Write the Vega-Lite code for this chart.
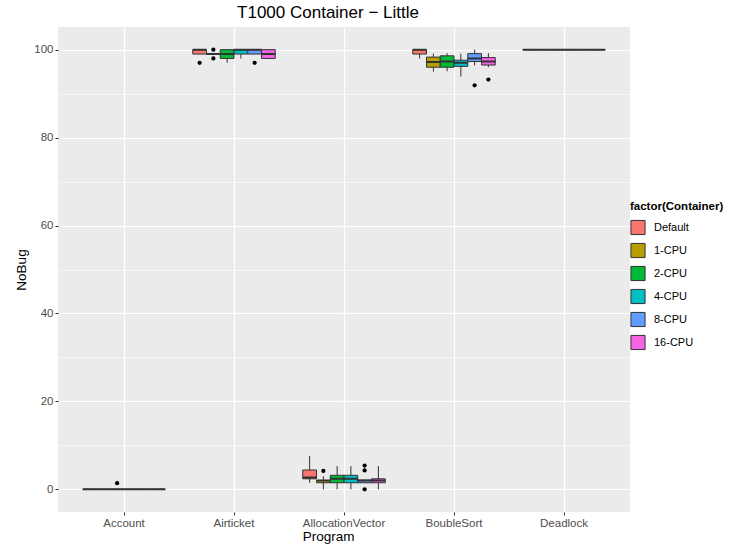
{
  "$schema": "https://vega.github.io/schema/vega-lite/v6.json",
  "autosize": "none",
  "width": 572,
  "height": 485,
  "padding": {"left": 58, "top": 27, "right": 111, "bottom": 39},
  "background": "white",
  "title": {"text": "T1000 Container − Little", "anchor": "middle", "dx": -16, "offset": 5, "fontSize": 17, "font": "Liberation Sans", "fontWeight": "normal", "color": "#000000"},
  "config": {
    "view": {"fill": "#EBEBEB", "stroke": null},
    "font": "Liberation Sans",
    "axis": {"domain": false, "gridColor": "#FFFFFF", "tickColor": "#333333", "tickSize": 3, "labelColor": "#4D4D4D", "labelFont": "Liberation Sans", "labelFontSize": 11.5, "labelPadding": 2, "titleFont": "Liberation Sans", "titleFontSize": 13.5, "titleFontWeight": "normal", "titleColor": "#000000"},
    "legend": {"titleFont": "Liberation Sans", "labelFont": "Liberation Sans"}
  },
  "datasets": {
    "boxes": [
      {"Program": "Account", "Container": "Default", "lower": 0, "q1": 0, "median": 0, "q3": 0, "upper": 0},
      {"Program": "Account", "Container": "1-CPU", "lower": 0, "q1": 0, "median": 0, "q3": 0, "upper": 0},
      {"Program": "Account", "Container": "2-CPU", "lower": 0, "q1": 0, "median": 0, "q3": 0, "upper": 0},
      {"Program": "Account", "Container": "4-CPU", "lower": 0, "q1": 0, "median": 0, "q3": 0, "upper": 0},
      {"Program": "Account", "Container": "8-CPU", "lower": 0, "q1": 0, "median": 0, "q3": 0, "upper": 0},
      {"Program": "Account", "Container": "16-CPU", "lower": 0, "q1": 0, "median": 0, "q3": 0, "upper": 0},
      {"Program": "Airticket", "Container": "Default", "lower": 99, "q1": 99, "median": 100, "q3": 100, "upper": 100},
      {"Program": "Airticket", "Container": "1-CPU", "lower": 99, "q1": 99, "median": 99, "q3": 99, "upper": 99},
      {"Program": "Airticket", "Container": "2-CPU", "lower": 97, "q1": 98, "median": 99, "q3": 100, "upper": 100},
      {"Program": "Airticket", "Container": "4-CPU", "lower": 98, "q1": 99, "median": 100, "q3": 100, "upper": 100},
      {"Program": "Airticket", "Container": "8-CPU", "lower": 99, "q1": 99, "median": 100, "q3": 100, "upper": 100},
      {"Program": "Airticket", "Container": "16-CPU", "lower": 98, "q1": 98, "median": 99, "q3": 100, "upper": 100},
      {"Program": "AllocationVector", "Container": "Default", "lower": 1.5, "q1": 2.4, "median": 2.7, "q3": 4.4, "upper": 7.6},
      {"Program": "AllocationVector", "Container": "1-CPU", "lower": 0, "q1": 1.5, "median": 2, "q3": 2, "upper": 3},
      {"Program": "AllocationVector", "Container": "2-CPU", "lower": 0, "q1": 1.5, "median": 2.4, "q3": 3.2, "upper": 5.3},
      {"Program": "AllocationVector", "Container": "4-CPU", "lower": 0, "q1": 1.5, "median": 2.4, "q3": 3.2, "upper": 5.3},
      {"Program": "AllocationVector", "Container": "8-CPU", "lower": 1.5, "q1": 1.5, "median": 2, "q3": 2.1, "upper": 2.1},
      {"Program": "AllocationVector", "Container": "16-CPU", "lower": 0, "q1": 1.5, "median": 2, "q3": 2.4, "upper": 5.3},
      {"Program": "BoubleSort", "Container": "Default", "lower": 98, "q1": 99, "median": 100, "q3": 100, "upper": 100},
      {"Program": "BoubleSort", "Container": "1-CPU", "lower": 95, "q1": 96, "median": 97.2, "q3": 98.3, "upper": 99.1},
      {"Program": "BoubleSort", "Container": "2-CPU", "lower": 95.1, "q1": 96, "median": 97.3, "q3": 98.6, "upper": 99.2},
      {"Program": "BoubleSort", "Container": "4-CPU", "lower": 93.9, "q1": 96.2, "median": 97, "q3": 97.6, "upper": 99.1},
      {"Program": "BoubleSort", "Container": "8-CPU", "lower": 96.4, "q1": 97.3, "median": 98, "q3": 99.1, "upper": 100},
      {"Program": "BoubleSort", "Container": "16-CPU", "lower": 96, "q1": 96.5, "median": 97.3, "q3": 98.2, "upper": 99.2},
      {"Program": "Deadlock", "Container": "Default", "lower": 100, "q1": 100, "median": 100, "q3": 100, "upper": 100},
      {"Program": "Deadlock", "Container": "1-CPU", "lower": 100, "q1": 100, "median": 100, "q3": 100, "upper": 100},
      {"Program": "Deadlock", "Container": "2-CPU", "lower": 100, "q1": 100, "median": 100, "q3": 100, "upper": 100},
      {"Program": "Deadlock", "Container": "4-CPU", "lower": 100, "q1": 100, "median": 100, "q3": 100, "upper": 100},
      {"Program": "Deadlock", "Container": "8-CPU", "lower": 100, "q1": 100, "median": 100, "q3": 100, "upper": 100},
      {"Program": "Deadlock", "Container": "16-CPU", "lower": 100, "q1": 100, "median": 100, "q3": 100, "upper": 100}
    ],
    "outliers": [
      {"Program": "Account", "Container": "2-CPU", "NoBug": 1.4},
      {"Program": "Airticket", "Container": "Default", "NoBug": 97},
      {"Program": "Airticket", "Container": "1-CPU", "NoBug": 100},
      {"Program": "Airticket", "Container": "1-CPU", "NoBug": 98},
      {"Program": "Airticket", "Container": "8-CPU", "NoBug": 97},
      {"Program": "AllocationVector", "Container": "1-CPU", "NoBug": 4.2},
      {"Program": "AllocationVector", "Container": "8-CPU", "NoBug": 4.3},
      {"Program": "AllocationVector", "Container": "8-CPU", "NoBug": 5.4},
      {"Program": "AllocationVector", "Container": "8-CPU", "NoBug": 0},
      {"Program": "BoubleSort", "Container": "8-CPU", "NoBug": 91.9},
      {"Program": "BoubleSort", "Container": "16-CPU", "NoBug": 93.2}
    ]
  },
  "encoding": {
    "x": {"field": "Program", "type": "nominal", "sort": ["Account", "Airticket", "AllocationVector", "BoubleSort", "Deadlock"],
      "scale": {"paddingInner": 0, "paddingOuter": 0.1},
      "axis": {"title": "Program", "labelAngle": 0, "bandPosition": 0.5, "grid": true, "gridWidth": 1.2, "titleX": 270, "titlePadding": 1}},
    "xOffset": {"field": "Container", "type": "nominal", "sort": ["Default", "1-CPU", "2-CPU", "4-CPU", "8-CPU", "16-CPU"],
      "scale": {"domain": ["Default", "1-CPU", "2-CPU", "4-CPU", "8-CPU", "16-CPU"], "paddingInner": 0, "paddingOuter": 1}}
  },
  "layer": [
    {
      "data": {"name": "boxes"},
      "mark": {"type": "rule", "color": "#333333", "strokeWidth": 1},
      "encoding": {
        "y": {"field": "lower", "type": "quantitative", "title": "NoBug",
          "scale": {"domain": [-5.15, 105.15], "nice": false, "zero": false},
          "axis": {"values": [0, 10, 20, 30, 40, 50, 60, 70, 80, 90, 100],
            "labelExpr": "datum.value % 20 === 0 ? datum.label : ''",
            "gridWidth": {"condition": {"test": "datum.value % 20 === 0", "value": 1.2}, "value": 0.6},
            "tickOpacity": {"condition": {"test": "datum.value % 20 === 0", "value": 1}, "value": 0},
            "titlePadding": 5}},
        "y2": {"field": "upper"}
      }
    },
    {
      "data": {"name": "boxes"},
      "mark": {"type": "bar", "stroke": "#333333", "strokeWidth": 1},
      "encoding": {
        "y": {"field": "q1", "type": "quantitative"},
        "y2": {"field": "q3"},
        "color": {"field": "Container", "type": "nominal", "sort": ["Default", "1-CPU", "2-CPU", "4-CPU", "8-CPU", "16-CPU"],
          "scale": {"domain": ["Default", "1-CPU", "2-CPU", "4-CPU", "8-CPU", "16-CPU"], "range": ["#F8766D", "#B79F00", "#00BA38", "#00BFC4", "#619CFF", "#F564E3"]},
          "legend": {"title": "factor(Container)", "orient": "none", "legendX": 572, "legendY": 174,
            "symbolType": "square", "symbolSize": 200, "symbolStrokeColor": "#333333", "symbolStrokeWidth": 1,
            "titleFontSize": 11.5, "titleFontWeight": "bold", "titleColor": "#000000", "titlePadding": 7,
            "labelFontSize": 11, "labelColor": "#000000", "labelOffset": 8, "rowPadding": 3}}
      }
    },
    {
      "data": {"name": "boxes"},
      "mark": {"type": "bar", "stroke": "#333333", "strokeWidth": 2, "fillOpacity": 0},
      "encoding": {
        "y": {"field": "median", "type": "quantitative"},
        "y2": {"field": "median"}
      }
    },
    {
      "data": {"name": "outliers"},
      "mark": {"type": "point", "filled": true, "color": "#000000", "opacity": 1, "size": 18},
      "encoding": {
        "y": {"field": "NoBug", "type": "quantitative"}
      }
    }
  ]
}
